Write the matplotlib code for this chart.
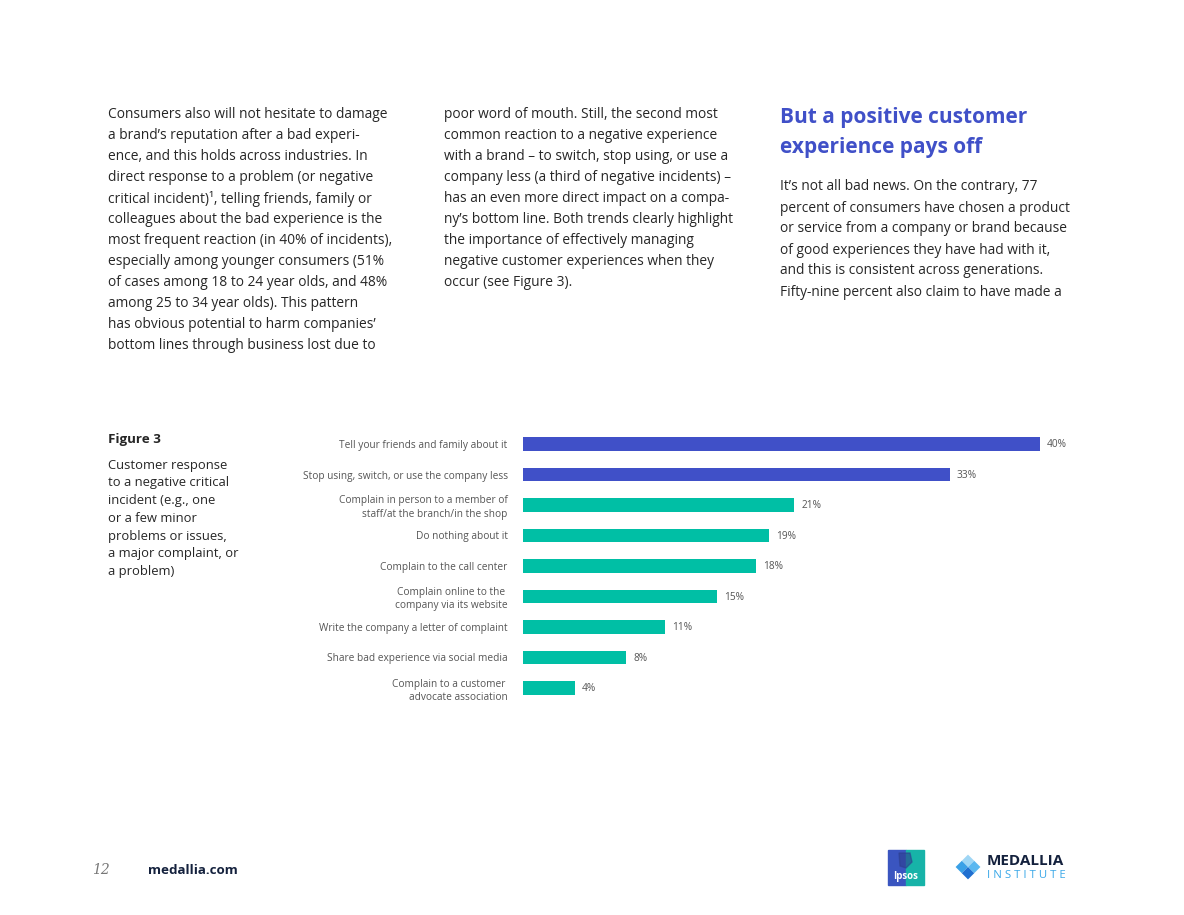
import matplotlib.pyplot as plt
from matplotlib.patches import Rectangle, Polygon

W, H = 1184, 915

# chart data
labels = [
    "Tell your friends and family about it",
    "Stop using, switch, or use the company less",
    "Complain in person to a member of\nstaff/at the branch/in the shop",
    "Do nothing about it",
    "Complain to the call center",
    "Complain online to the \ncompany via its website",
    "Write the company a letter of complaint",
    "Share bad experience via social media",
    "Complain to a customer \nadvocate association",
]
values = [40, 33, 21, 19, 18, 15, 11, 8, 4]
n_highlight = 2

col1 = [
    "Consumers also will not hesitate to damage",
    "a brand’s reputation after a bad experi-",
    "ence, and this holds across industries. In",
    "direct response to a problem (or negative",
    "critical incident)¹, telling friends, family or",
    "colleagues about the bad experience is the",
    "most frequent reaction (in 40% of incidents),",
    "especially among younger consumers (51%",
    "of cases among 18 to 24 year olds, and 48%",
    "among 25 to 34 year olds). This pattern",
    "has obvious potential to harm companies’",
    "bottom lines through business lost due to",
]
col2 = [
    "poor word of mouth. Still, the second most",
    "common reaction to a negative experience",
    "with a brand – to switch, stop using, or use a",
    "company less (a third of negative incidents) –",
    "has an even more direct impact on a compa-",
    "ny’s bottom line. Both trends clearly highlight",
    "the importance of effectively managing",
    "negative customer experiences when they",
    "occur (see Figure 3).",
]
heading = ["But a positive customer", "experience pays off"]
col3 = [
    "It’s not all bad news. On the contrary, 77",
    "percent of consumers have chosen a product",
    "or service from a company or brand because",
    "of good experiences they have had with it,",
    "and this is consistent across generations.",
    "Fifty-nine percent also claim to have made a",
]
caption = [
    "Customer response",
    "to a negative critical",
    "incident (e.g., one",
    "or a few minor",
    "problems or issues,",
    "a major complaint, or",
    "a problem)",
]

BLUE = "#4050c8"
TEAL = "#00bfa5"
BODY = "#262626"
GREY = "#555555"
NAVY = "#14213d"
BODY_FS = 9.95

plt.rcParams['font.family'] = ['Open Sans', 'DejaVu Sans']

fig = plt.figure(figsize=(W / 100, H / 100), dpi=100)
fig.patch.set_facecolor("white")

# page layer in pixel coordinates
page = fig.add_axes([0, 0, 1, 1])
page.set_xlim(0, W)
page.set_ylim(H, 0)
page.axis("off")

for i, line in enumerate(col1):
    page.text(108, 115 + i * 20.93, line, fontsize=BODY_FS, color=BODY, va="center")
for i, line in enumerate(col2):
    page.text(444, 115 + i * 20.93, line, fontsize=BODY_FS, color=BODY, va="center")
for i, line in enumerate(heading):
    page.text(780, 118 + i * 30, line, fontsize=15, color=BLUE, fontweight="bold", va="center")
for i, line in enumerate(col3):
    page.text(780, 187 + i * 21, line, fontsize=BODY_FS, color=BODY, va="center")

page.text(108, 439, "Figure 3", fontsize=9.6, color=BODY, fontweight="bold", va="center")
for i, line in enumerate(caption):
    page.text(108, 465 + i * 17.8, line, fontsize=9.4, color=BODY, va="center")

# footer
page.text(92, 870, "12", fontsize=10, color="#777777", style="italic", va="center",
          family="DejaVu Serif")
page.text(148, 870, "medallia.com", fontsize=9.6, color=NAVY, fontweight="bold", va="center")

# Ipsos logo
page.add_patch(Rectangle((888, 850), 18, 35, color="#3a55c0"))
page.add_patch(Rectangle((906, 850), 18, 35, color="#17b3a8"))
page.add_patch(Polygon([(899, 853), (910, 853), (912, 862), (906, 868), (900, 866)],
                       color="#2d3f8f", alpha=0.6))
page.text(906, 877, "Ipsos", fontsize=7, color="white", fontweight="bold",
          ha="center", va="center")

# Medallia logo
cx, cy, s = 968, 867, 6.2
for dx, dy, c in [(0, -1, "#9fd6f5"), (-1, 0, "#3aa0e6"), (1, 0, "#5bb8f0"), (0, 1, "#1f6fd0")]:
    x0, y0 = cx + dx * s, cy + dy * s
    page.add_patch(Polygon([(x0, y0 - s), (x0 + s, y0), (x0, y0 + s), (x0 - s, y0)],
                           color=c, lw=0))
page.text(987, 861, "MEDALLIA", fontsize=11, color=NAVY, fontweight="bold", va="center")
page.text(987, 876, "I N S T I T U T E", fontsize=8.2, color="#3aa8e8", va="center")

# chart
x0_px, x40_px = 523, 1040
top_px, bot_px = 428.75, 703.25
ax = fig.add_axes([x0_px / W, 1 - bot_px / H, (x40_px - x0_px) / W, (bot_px - top_px) / H])
pos = list(range(len(values)))
colors = [BLUE if i < n_highlight else TEAL for i in pos]
ax.barh(pos, values, height=0.43, color=colors)
ax.set_xlim(0, 40)
ax.set_ylim(len(values) - 0.5, -0.5)
for p, v in zip(pos, values):
    ax.text(v + 0.55, p + 0.03, f"{v}%", fontsize=7.3, color=GREY, va="center")
ax.set_yticks(pos)
ax.set_yticklabels(labels, fontsize=7.3, color=GREY, linespacing=1.25)
ax.tick_params(axis="y", length=0, pad=11)
ax.set_xticks([])
for sp in ax.spines.values():
    sp.set_visible(False)
ax.set_facecolor("none")

fig.savefig("out.png", dpi=100, facecolor="white")
